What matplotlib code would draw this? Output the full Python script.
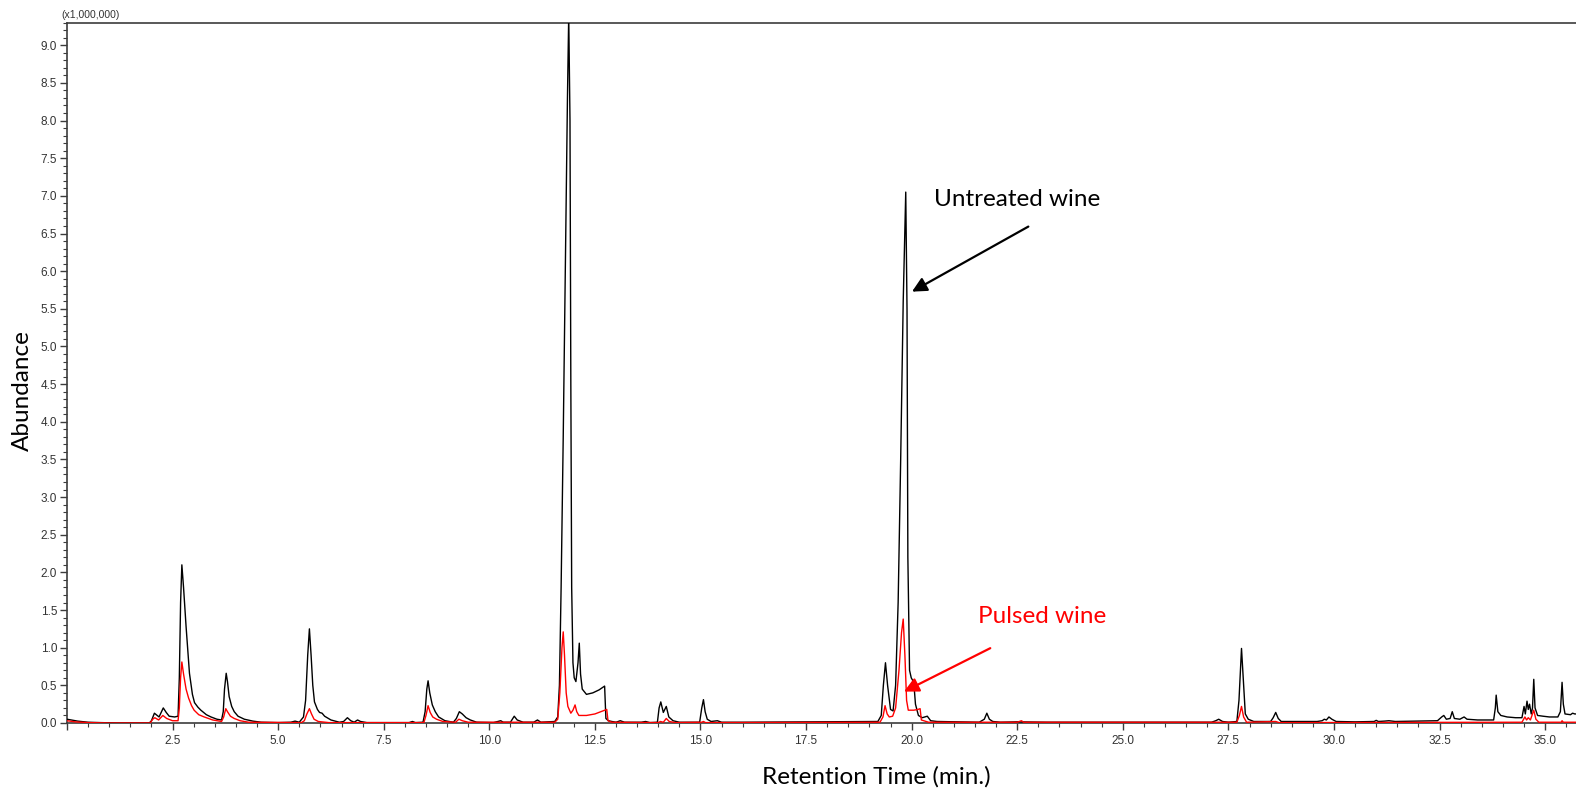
import matplotlib
matplotlib.use('Agg')
import matplotlib.pyplot as plt
from matplotlib.ticker import MultipleLocator, FuncFormatter, FormatStrFormatter

# chromatogram traces (time in min, abundance in x1,000,000)
untreated_t = [0.00, 0.10, 0.25, 0.50, 0.80, 1.20, 1.95, 2.00, 2.07, 2.18, 2.28, 2.35, 2.42, 2.55, 2.63,
               2.66, 2.69, 2.72, 2.76, 2.82, 2.90, 2.97, 3.02, 3.10, 3.17, 3.30, 3.41, 3.55, 3.66,
               3.70, 3.73, 3.77, 3.80, 3.84, 3.90, 3.96, 4.05, 4.20, 4.40, 4.60, 5.00, 5.30, 5.40,
               5.50, 5.60, 5.65, 5.70, 5.74, 5.78, 5.82, 5.86, 5.93, 5.98, 6.04, 6.10, 6.25, 6.45,
               6.55, 6.64, 6.72, 6.80, 6.88, 6.95, 7.10, 8.10, 8.18, 8.25, 8.43, 8.48, 8.52, 8.55,
               8.59, 8.65, 8.72, 8.80, 8.95, 9.15, 9.22, 9.29, 9.36, 9.45, 9.55, 9.70, 10.10, 10.20,
               10.27, 10.33, 10.50, 10.59, 10.66, 10.80, 11.05, 11.14, 11.22, 11.55, 11.62, 11.66,
               11.70, 11.75, 11.80, 11.85, 11.88, 11.91, 11.93, 11.95, 11.98, 12.01, 12.05, 12.10,
               12.13, 12.16, 12.20, 12.30, 12.45, 12.60, 12.73, 12.76, 12.82, 12.90, 13.00, 13.10,
               13.20, 13.60, 13.70, 13.80, 13.98, 14.02, 14.06, 14.12, 14.19, 14.25, 14.35, 14.50,
               14.98, 15.03, 15.07, 15.11, 15.16, 15.25, 15.40, 15.50, 16.00, 19.20, 19.28, 19.33,
               19.38, 19.43, 19.50, 19.56, 19.62, 19.68, 19.74, 19.80, 19.86, 19.89, 19.91, 19.95,
               19.99, 20.05, 20.09, 20.16, 20.25, 20.37, 20.45, 20.60, 21.60, 21.72, 21.78, 21.84,
               21.92, 22.10, 22.50, 23.20, 27.10, 27.20, 27.27, 27.36, 27.50, 27.70, 27.75, 27.81,
               27.86, 27.90, 27.97, 28.10, 28.50, 28.56, 28.62, 28.68, 28.75, 29.60, 29.72, 29.77,
               29.82, 29.88, 29.95, 30.05, 30.50, 30.95, 31.00, 31.05, 31.20, 31.30, 31.45, 32.00,
               32.45, 32.55, 32.60, 32.66, 32.75, 32.80, 32.85, 32.98, 33.08, 33.15, 33.40, 33.78,
               33.82, 33.84, 33.88, 33.95, 34.10, 34.30, 34.45, 34.50, 34.53, 34.57, 34.60, 34.63,
               34.67, 34.70, 34.73, 34.76, 34.82, 34.95, 35.10, 35.30, 35.36, 35.40, 35.43, 35.47,
               35.60, 35.65, 35.70, 35.80]
untreated_y = [0.05, 0.04, 0.025, 0.01, 0.005, 0.0, 0.0, 0.03, 0.13, 0.08, 0.20, 0.14, 0.09, 0.08, 0.09,
               0.6, 1.6, 2.10, 1.80, 1.28, 0.66, 0.38, 0.27, 0.21, 0.17, 0.11, 0.08, 0.05, 0.04,
               0.15, 0.45, 0.66, 0.55, 0.35, 0.22, 0.15, 0.09, 0.05, 0.025, 0.01, 0.005, 0.01, 0.025,
               0.01, 0.08, 0.3, 0.9, 1.25, 0.9, 0.5, 0.28, 0.18, 0.14, 0.13, 0.09, 0.04, 0.01,
               0.02, 0.07, 0.03, 0.01, 0.04, 0.02, 0.005, 0.005, 0.02, 0.005, 0.01, 0.15, 0.45, 0.56,
               0.40, 0.24, 0.15, 0.08, 0.03, 0.01, 0.06, 0.15, 0.12, 0.07, 0.04, 0.01, 0.005, 0.02,
               0.03, 0.01, 0.01, 0.09, 0.04, 0.01, 0.01, 0.04, 0.01, 0.02, 0.08, 0.5,
               1.8, 3.8, 6.0, 8.3, 9.4, 8.0, 4.5, 1.8, 0.8, 0.6, 0.55, 0.8,
               1.06, 0.65, 0.45, 0.38, 0.40, 0.44, 0.49, 0.06, 0.03, 0.02, 0.01, 0.03,
               0.01, 0.01, 0.02, 0.005, 0.01, 0.20, 0.28, 0.14, 0.22, 0.08, 0.03, 0.01,
               0.01, 0.20, 0.31, 0.15, 0.05, 0.02, 0.03, 0.01, 0.01, 0.02, 0.1, 0.5,
               0.80, 0.5, 0.18, 0.16, 0.5, 1.6, 3.5, 5.6, 7.05, 5.5, 2.2, 0.7,
               0.6, 0.54, 0.25, 0.1, 0.07, 0.09, 0.03, 0.02, 0.01, 0.05, 0.13, 0.05,
               0.02, 0.01, 0.015, 0.01, 0.01, 0.03, 0.05, 0.02, 0.01, 0.02, 0.3, 0.99,
               0.5, 0.12, 0.05, 0.02, 0.02, 0.07, 0.14, 0.06, 0.02, 0.02, 0.03, 0.05,
               0.04, 0.08, 0.05, 0.02, 0.015, 0.02, 0.035, 0.02, 0.025, 0.03, 0.02, 0.025,
               0.03, 0.08, 0.10, 0.05, 0.06, 0.15, 0.06, 0.05, 0.08, 0.05, 0.04, 0.04,
               0.2, 0.37, 0.15, 0.1, 0.08, 0.07, 0.07, 0.22, 0.12, 0.29, 0.18, 0.25,
               0.12, 0.2, 0.58, 0.2, 0.10, 0.09, 0.08, 0.08, 0.15, 0.54, 0.25, 0.12,
               0.11, 0.13, 0.12, 0.12]

pulsed_t = [0.00, 0.20, 0.50, 1.00, 1.97, 2.03, 2.08, 2.17, 2.27, 2.36, 2.50, 2.63, 2.66, 2.69, 2.72,
            2.76, 2.82, 2.88, 2.95, 3.01, 3.12, 3.25, 3.45, 3.66, 3.71, 3.76, 3.80, 3.87, 3.96,
            4.10, 4.30, 5.55, 5.62, 5.68, 5.74, 5.79, 5.85, 5.95, 6.20, 8.45, 8.50, 8.55, 8.60,
            8.66, 8.75, 8.90, 9.20, 9.28, 9.36, 9.50, 11.55, 11.62, 11.67, 11.72, 11.75, 11.78,
            11.82, 11.86, 11.93, 11.98, 12.03, 12.07, 12.12, 12.30, 12.50, 12.78, 12.81, 12.90,
            14.00, 14.05, 14.12, 14.19, 14.26, 14.40, 15.03, 15.07, 15.12, 19.25, 19.32, 19.37,
            19.42, 19.47, 19.55, 19.62, 19.70, 19.76, 19.80, 19.84, 19.88, 19.92, 20.05, 20.15,
            20.20, 20.23, 20.40, 22.50, 22.60, 22.65, 27.70, 27.76, 27.81, 27.86, 27.93, 28.62,
            28.70, 34.45, 34.52, 34.56, 34.60, 34.65, 34.73, 34.78, 34.85, 35.38, 35.40, 35.43,
            35.80]
pulsed_y = [0.03, 0.015, 0.005, 0.0, 0.0, 0.05, 0.07, 0.04, 0.10, 0.06, 0.03, 0.03, 0.2, 0.6, 0.81,
            0.65, 0.45, 0.33, 0.23, 0.17, 0.11, 0.08, 0.04, 0.02, 0.08, 0.19, 0.15, 0.09, 0.06,
            0.03, 0.01, 0.005, 0.03, 0.12, 0.19, 0.12, 0.05, 0.02, 0.005, 0.005, 0.1, 0.23, 0.14,
            0.08, 0.05, 0.02, 0.01, 0.05, 0.03, 0.01, 0.01, 0.05, 0.4, 1.0, 1.21, 0.9,
            0.4, 0.22, 0.13, 0.17, 0.24, 0.15, 0.10, 0.10, 0.12, 0.18, 0.03, 0.01,
            0.005, 0.02, 0.01, 0.06, 0.02, 0.005, 0.01, 0.02, 0.005, 0.01, 0.08, 0.23,
            0.12, 0.08, 0.09, 0.2, 0.7, 1.2, 1.38, 0.9, 0.3, 0.17, 0.17, 0.18,
            0.19, 0.04, 0.01, 0.01, 0.03, 0.01, 0.01, 0.10, 0.22, 0.08, 0.01, 0.02,
            0.005, 0.01, 0.08, 0.04, 0.07, 0.04, 0.17, 0.05, 0.01, 0.01, 0.03, 0.01,
            0.01]

label_untreated = 'Untreated wine'
label_pulsed = 'Pulsed wine'

num_font = ['Liberation Sans Narrow', 'Liberation Sans', 'DejaVu Sans']
axis_color = '#3c3c3c'

fig = plt.figure(figsize=(15.76, 7.98), dpi=100)
ax = fig.add_axes([0.0425, 0.094, 0.9575, 0.8776])

ax.plot(untreated_t, untreated_y, color='black', lw=1.0, zorder=3)
ax.plot(pulsed_t, pulsed_y, color='red', lw=1.0, zorder=3)

# ticks: labelled every 2.5 min / 0.5, minor every 0.5 min / 0.1
ax.xaxis.set_major_locator(MultipleLocator(2.5))
ax.xaxis.set_minor_locator(MultipleLocator(0.5))
ax.yaxis.set_major_locator(MultipleLocator(0.5))
ax.yaxis.set_minor_locator(MultipleLocator(0.1))
ax.xaxis.set_major_formatter(FuncFormatter(lambda v, p: '' if abs(v) < 1e-9 else '%.1f' % v))
ax.yaxis.set_major_formatter(FormatStrFormatter('%.1f'))

ax.set_xlim(0, 35.73)
ax.set_ylim(0, 9.3)

ax.tick_params(axis='both', which='major', direction='out', length=5, width=1, color=axis_color,
               labelsize=8.5, labelcolor='#333333', pad=2)
ax.tick_params(axis='both', which='minor', direction='out', length=3, width=0.8, color=axis_color)
ax.tick_params(axis='x', which='major', pad=4)
for lab in ax.get_xticklabels() + ax.get_yticklabels():
    lab.set_family(num_font)

ax.spines['right'].set_visible(False)
for s in ['left', 'top', 'bottom']:
    ax.spines[s].set_color(axis_color)
    ax.spines[s].set_linewidth(1.2)

fig.text(0.0387, 0.981, '(x1,000,000)', fontsize=7.5, family=num_font, color='#333333',
         ha='left', va='center')

# axis titles
fig.text(0.014, 0.511, 'Abundance', rotation=90, fontsize=17.5, family='Lato', ha='center', va='center')
fig.text(0.556, 0.026, 'Retention Time (min.)', fontsize=17.5, family='Lato', ha='center', va='center')

# arrows and labels
ax.annotate('', xy=(19.95, 5.71), xytext=(22.82, 6.61),
            arrowprops=dict(arrowstyle='-|>', color='black', lw=1.6, mutation_scale=22))
ax.text(20.52, 6.95, label_untreated, fontsize=17.5, family='Lato', color='black', ha='left', va='center')
ax.annotate('', xy=(19.76, 0.40), xytext=(21.92, 1.01),
            arrowprops=dict(arrowstyle='-|>', color='red', lw=1.6, mutation_scale=22))
ax.text(21.56, 1.41, label_pulsed, fontsize=17.5, family='Lato', color='red', ha='left', va='center')

fig.savefig('out.png', dpi=100)
